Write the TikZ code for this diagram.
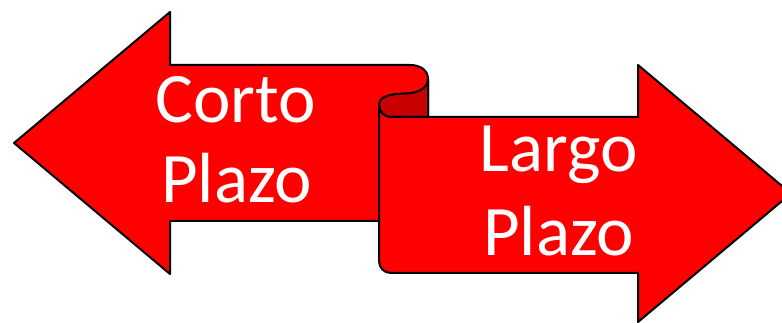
\documentclass[tikz,border=0pt]{standalone}
\usepackage{fontspec}
\setmainfont{Carlito}
\definecolor{ribred}{RGB}{255,0,0}
\definecolor{curlred}{RGB}{200,0,0}
\begin{document}
\begin{tikzpicture}[x=1pt,y=-1pt,
  ribbon/.style={fill=ribred,draw=black,line width=2pt,line join=round},
  curl/.style={fill=curlred,draw=black,line width=2pt,line join=round},
  lbl/.style={text=white,anchor=base,inner sep=0pt,font=\fontsize{71}{82}\selectfont}]
\useasboundingbox (0,0) rectangle (782,323);
% back arrow (left)
\path[ribbon] (14,143) -- (170,12) -- (170,65) -- (410,65)
  .. controls (420,65) and (428,70) .. (428,79) -- (428,221)
  -- (170,221) -- (170,274) -- cycle;
% inner side of the curl
\path[curl] (428,79) .. controls (428,88) and (418,93.5) .. (405,93.5)
  .. controls (388,94) and (379,97) .. (379,105)
  .. controls (379,112) and (384,117) .. (392,117) -- (428,117) -- cycle;
% front arrow (right)
\path[ribbon] (379,105) -- (379,261)
  .. controls (379,268) and (384,273) .. (391,273) -- (638,273)
  -- (638,322) -- (791,193.5) -- (638,65) -- (638,117) -- (392,117)
  .. controls (384,117) and (379,112) .. (379,105) -- cycle;
% labels
\node[lbl] (corto) at (236,123) {Corto};
\node[lbl] (plazoA) at (236.5,203) {Plazo};
\node[lbl] (largo) at (558.5,172) {Largo};
\node[lbl] (plazoB) at (558.5,255) {Plazo};
\end{tikzpicture}
\end{document}
